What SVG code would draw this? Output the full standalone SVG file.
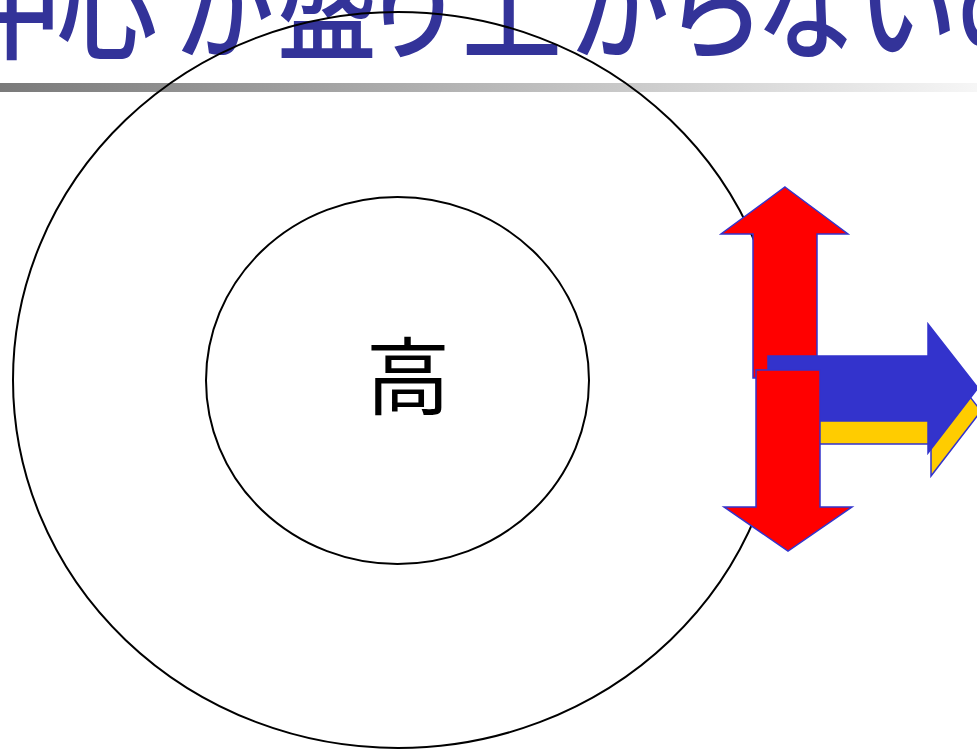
<svg xmlns="http://www.w3.org/2000/svg" width="977" height="750" viewBox="0 0 977 750">
<defs>
<linearGradient id="bar" x1="0" y1="0" x2="1" y2="0">
<stop offset="0" stop-color="#7a7a7a"/>
<stop offset="1" stop-color="#f6f6f6"/>
</linearGradient>
</defs>
<style>
.title{font-family:"Noto Sans CJK JP","Noto Sans CJK SC",sans-serif;font-size:100px;font-weight:500;fill:#333399;}
.ring{fill:none;stroke:#000;stroke-width:2;}
.lbl{font-family:"Noto Sans CJK JP","Noto Sans CJK SC",sans-serif;font-size:84px;fill:#000;}
.red{fill:#ff0000;stroke:#3333cc;stroke-width:1.5;stroke-linejoin:miter;}
.blue{fill:#3333cc;stroke:#3333cc;stroke-width:1.5;}
.yellow{fill:#ffcc00;stroke:#3333cc;stroke-width:1.5;}
</style>
<rect width="977" height="750" fill="#fff"/>
<g id="title" transform="translate(0,50) scale(1,1.15)">
<text class="title" x="-38 57 175 277 363 462 570 665 756 857 955" y="0">中心が盛り上がらないの</text>
</g>
<rect id="rule" x="0" y="83" width="977" height="9" fill="url(#bar)"/>
<g id="outer-circle"><ellipse class="ring" cx="398" cy="380" rx="385" ry="368"/></g>
<g id="inner-circle"><ellipse class="ring" cx="397.5" cy="380.5" rx="191.5" ry="183.5"/>
<text class="lbl" x="408" y="408" text-anchor="middle">高</text></g>
<g id="connectors">
<polygon id="up-arrow" class="red" points="785,187 848,234 817,234 817,378 753,378 753,234 721,234"/>
<polygon id="right-arrow-side" class="yellow" points="771,379 931,379 931,347 981,411 931,476 931,444 771,444"/>
<polygon id="right-arrow" class="blue" points="768,356 928,356 928,324 978,388 928,453 928,421 768,421"/>
<polygon id="down-arrow" class="red" points="756,370 820,370 820,507 852,507 788,551 724,507 756,507"/>
</g>
</svg>
